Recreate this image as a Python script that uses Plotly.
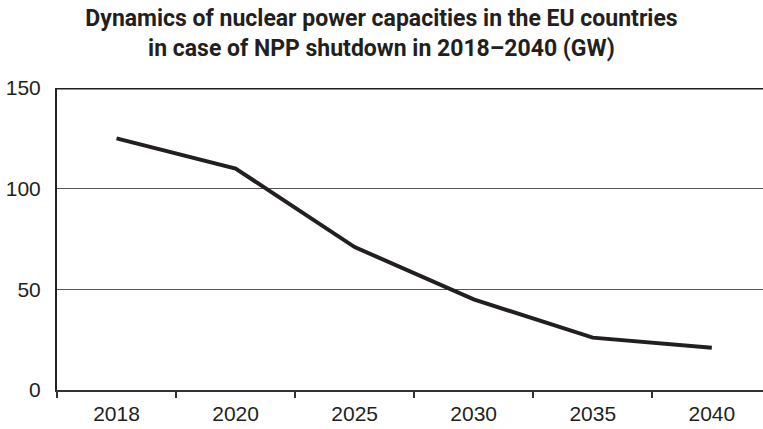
import plotly.graph_objects as go

years = ["2018", "2020", "2025", "2030", "2035", "2040"]
capacity_gw = [125, 110, 71, 45, 26, 21]
y_ticks = [0, 50, 100, 150]

title_text = ("Dynamics of nuclear power capacities in the EU countries<br>"
              "in case of NPP shutdown in 2018–2040 (GW)")

fig = go.Figure()
fig.add_trace(go.Scatter(
    x=years, y=capacity_gw, mode="lines",
    line=dict(color="#231f20", width=4),
    hoverinfo="x+y",
))

fig.update_layout(
    width=763, height=429,
    margin=dict(l=57, r=0, t=88, b=39),
    paper_bgcolor="white", plot_bgcolor="white",
    showlegend=False,
    title=dict(
        text=title_text,
        x=0.5, xanchor="center",
        y=0.94, yanchor="top", yref="container",
        font=dict(family="Roboto, Liberation Sans Narrow, Arial", size=23,
                  color="#231f20", weight="bold"),
    ),
    font=dict(family="Liberation Sans, Arial", size=21, color="#231f20"),
)

fig.update_xaxes(
    type="category",
    range=[-0.5, 5.43],
    tickson="boundaries",
    ticks="outside", ticklen=6, tickwidth=2, tickcolor="#333333",
    showline=True, linecolor="#333333", linewidth=2,
    showgrid=False, zeroline=False,
    tickfont=dict(size=21),
    ticklabelstandoff=4,
)

fig.update_yaxes(
    range=[0, 150],
    tickvals=y_ticks,
    ticks="", ticklabelstandoff=10,
    showline=True, linecolor="#231f20", linewidth=2,
    showgrid=True, gridcolor="#555555", gridwidth=1.3,
    zeroline=False,
    tickfont=dict(size=21),
)

# heavier top rule at the 150 gridline
fig.add_shape(type="line", xref="paper", yref="y", x0=0, x1=1, y0=150, y1=150,
              line=dict(color="#231f20", width=3))

fig.write_html("out.html")
